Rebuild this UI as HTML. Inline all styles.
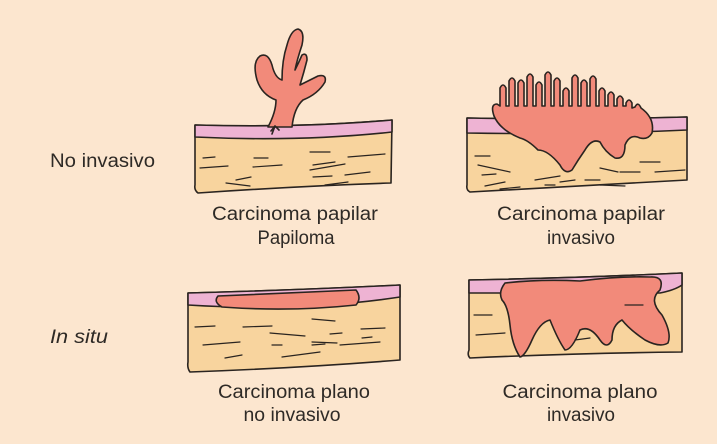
<!DOCTYPE html>
<html><head><meta charset="utf-8"><style>
html,body{margin:0;padding:0;background:#fce6cf;}
svg{display:block}
text{font-family:"Liberation Sans",sans-serif;fill:#2e2a26;font-size:19px}
</style></head><body>
<svg width="717" height="444" viewBox="0 0 717 444" xmlns="http://www.w3.org/2000/svg">
<rect width="717" height="444" fill="#fce6cf"/>
<g stroke="#2a2420" stroke-width="1.6" stroke-linejoin="round" stroke-linecap="round">
<!-- Top-left -->
<path d="M195,125 Q300,128 392,120 L391,183 Q300,186 198,193 Q194,190 195,185 Z" fill="#f8d49e"/>
<path d="M195,125 Q300,128 392,120 L392,132 Q300,142 195,137 Z" fill="#eeb3d3"/>
<path d="M268,127 Q276,112 276,100 Q262,95 257,80 Q252,62 260,56 Q268,52 272,65 Q275,78 282,80 Q282,60 287,45 Q291,30 298,29 Q305,31 302,45 Q297,60 295,70 Q299,62 302,55 Q307,52 307,60 Q304,72 300,85 Q310,80 318,76 Q327,74 325,82 Q318,94 303,100 Q294,108 292,127 Z" fill="#f28a7a"/>
<path d="M271,131 L275,126 L279,130 M275,126 L272,134" fill="none"/>
<g fill="none" stroke-width="1.2">
<path d="M203,158 L215,157 M254,158 L268,158 M310,152 L330,152 M348,157 L385,154 M200,168 L228,166 M253,167 L282,165 M313,165 L335,162 M310,170 L345,164 M313,177 L332,176 M236,180 L251,177 M250,186 L226,183 M325,185 L348,182 M345,175 L370,172"/>
</g>
<!-- Top-right -->
<path d="M467,118 Q580,120 687,117 L687,180 Q580,186 470,192 Q466,190 467,185 Z" fill="#f8d49e"/>
<path d="M467,118 Q580,120 687,117 L687,130 Q580,135 467,133 Z" fill="#eeb3d3"/>
<path d="M494,116 Q490,104 497,104 L500,106 L500,88 Q503,82 506,88 L506,106 L509,106 L509,81 Q512,75 515,81 L515,106 L518,106 L518,83 Q521,77 524,83 L524,106 L527,106 L527,77 Q530,71 533,77 L533,106 L536,106 L536,85 Q539,79 542,85 L542,106 L545,106 L545,75 Q548,69 551,75 L551,106 L554,106 L554,81 Q557,75 560,81 L560,106 L563,106 L563,91 Q566,85 569,91 L569,106 L572,106 L572,78 Q575,72 578,78 L578,106 L581,106 L581,83 Q584,77 587,83 L587,106 L590,106 L590,79 Q593,73 596,79 L596,106 L599,106 L599,91 Q602,85 605,91 L605,106 L608,106 L608,95 Q611,89 614,95 L614,106 L617,106 L617,99 Q620,93 623,99 L623,106 L626,106 L626,103 Q629,97 632,103 L632,108 L635,107 Q638,101 641,108 Q655,118 652,133 Q648,140 640,138 Q630,133 625,145 Q625,160 615,158 Q605,152 600,142 Q592,138 585,150 Q578,160 572,170 Q565,175 560,165 Q548,150 538,150 Q528,140 520,138 Q500,130 494,116 Z" fill="#f28a7a"/>
<g fill="none" stroke-width="1.2">
<path d="M475,156 L490,156 M478,165 L510,172 M482,175 L496,174 M640,162 L660,162 M655,172 L685,170 M620,172 L640,172 M600,168 L618,172 M535,180 L560,176 M560,182 L575,180 M485,186 L505,182 M500,189 L520,187 M545,185 L555,185 M585,180 L600,180 M600,185 L625,186"/>
</g>
<!-- Bottom-left -->
<path d="M188,293 Q300,290 400,285 L400,360 Q300,368 190,372 Q187,368 188,362 Z" fill="#f8d49e"/>
<path d="M188,293 Q300,290 400,285 L400,297 Q300,312 188,305 Z" fill="#eeb3d3"/>
<path d="M218,296 Q290,293 356,290 Q362,298 356,305 Q290,312 222,307 Q213,302 218,296 Z" fill="#f28a7a"/>
<g fill="none" stroke-width="1.2">
<path d="M195,327 L215,326 M243,327 L272,326 M312,319 L335,321 M361,329 L385,328 M270,333 L305,336 M330,334 L342,333 M203,345 L240,342 M272,345 L282,345 M312,345 L325,344 M340,345 L380,342 M225,358 L242,355 M282,357 L320,352 M337,343 L312,342 M362,338 L372,337"/>
</g>
<!-- Bottom-right -->
<path d="M469,280 Q580,278 682,273 L682,352 Q580,353 470,358 Q467,355 469,350 Z" fill="#f8d49e"/>
<path d="M469,280 Q580,278 682,273 L682,285 Q675,290 660,293 L500,293 Q480,293 469,293 Z" fill="#eeb3d3"/>
<path d="M505,283 Q540,279 580,281 Q620,276 650,277 Q665,276 660,290 Q648,300 662,315 Q672,333 668,343 Q660,348 645,340 Q630,330 622,320 Q612,325 612,340 Q607,350 600,340 Q590,325 580,330 Q572,350 565,350 Q558,340 550,320 Q540,322 532,340 Q525,356 520,357 Q512,345 510,325 Q508,306 502,300 Q498,292 505,283 Z" fill="#f28a7a"/>
<g fill="none" stroke-width="1.2">
<path d="M474,315 L492,315 M476,335 L505,333 M625,305 L643,305 M575,340 L590,338"/>
</g>
</g>
<text x="50" y="167" textLength="105" lengthAdjust="spacingAndGlyphs">No invasivo</text>
<text x="50" y="343" font-style="italic" textLength="58" lengthAdjust="spacingAndGlyphs">In situ</text>
<text x="295" y="220" text-anchor="middle" textLength="166" lengthAdjust="spacingAndGlyphs">Carcinoma papilar</text>
<text x="296" y="244" text-anchor="middle" textLength="77" lengthAdjust="spacingAndGlyphs">Papiloma</text>
<text x="581" y="220" text-anchor="middle" textLength="168" lengthAdjust="spacingAndGlyphs">Carcinoma papilar</text>
<text x="581" y="244" text-anchor="middle" textLength="68" lengthAdjust="spacingAndGlyphs">invasivo</text>
<text x="294" y="398" text-anchor="middle" textLength="152" lengthAdjust="spacingAndGlyphs">Carcinoma plano</text>
<text x="292" y="421" text-anchor="middle" textLength="97" lengthAdjust="spacingAndGlyphs">no invasivo</text>
<text x="580" y="398" text-anchor="middle" textLength="155" lengthAdjust="spacingAndGlyphs">Carcinoma plano</text>
<text x="581" y="421" text-anchor="middle" textLength="68" lengthAdjust="spacingAndGlyphs">invasivo</text>
</svg>
</body></html>
